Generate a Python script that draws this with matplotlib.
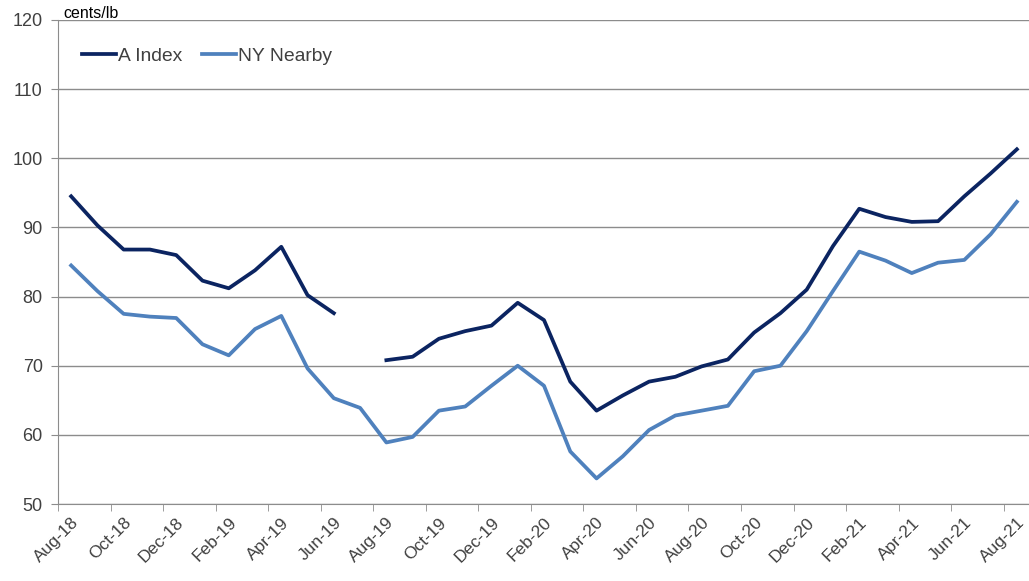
import numpy as np
import matplotlib.pyplot as plt

plt.rcParams['font.family'] = ['Liberation Sans', 'DejaVu Sans']

months = ['Aug-18', 'Sep-18', 'Oct-18', 'Nov-18', 'Dec-18', 'Jan-19', 'Feb-19', 'Mar-19',
          'Apr-19', 'May-19', 'Jun-19', 'Jul-19', 'Aug-19', 'Sep-19', 'Oct-19', 'Nov-19',
          'Dec-19', 'Jan-20', 'Feb-20', 'Mar-20', 'Apr-20', 'May-20', 'Jun-20', 'Jul-20',
          'Aug-20', 'Sep-20', 'Oct-20', 'Nov-20', 'Dec-20', 'Jan-21', 'Feb-21', 'Mar-21',
          'Apr-21', 'May-21', 'Jun-21', 'Jul-21', 'Aug-21']

# Jul-19 missing for the A Index
a_index = [94.5, 90.3, 86.8, 86.8, 86.0, 82.3, 81.2, 83.8, 87.2, 80.2, 77.6, np.nan,
           70.8, 71.3, 73.9, 75.0, 75.8, 79.1, 76.6, 67.7, 63.5, 65.7, 67.7, 68.4,
           69.9, 70.9, 74.8, 77.6, 81.0, 87.3, 92.7, 91.5, 90.8, 90.9, 94.5, 97.8, 101.3]

ny_nearby = [84.5, 80.8, 77.5, 77.1, 76.9, 73.1, 71.5, 75.3, 77.2, 69.6, 65.3, 63.9,
             58.9, 59.7, 63.5, 64.1, 67.1, 70.0, 67.1, 57.6, 53.7, 56.9, 60.7, 62.8,
             63.5, 64.2, 69.2, 70.0, 75.0, 80.8, 86.5, 85.2, 83.4, 84.9, 85.3, 89.0, 93.7]

x = np.arange(len(months))

fig = plt.figure(figsize=(10.29, 5.81), dpi=100)
ax = fig.add_axes([58 / 1029, 77 / 581, 972 / 1029, 484 / 581])

ax.plot(x, a_index, color='#0b2461', lw=2.7, label='A Index', solid_joinstyle='round')
ax.plot(x, ny_nearby, color='#4f81bd', lw=2.7, label='NY Nearby', solid_joinstyle='round')

ax.set_xlim(-0.5, len(months) - 0.5)
ax.set_ylim(50, 120)
ax.set_yticks(range(50, 121, 10))
ax.yaxis.grid(True, color='#8c8c8c', lw=1)
ax.set_axisbelow(True)

# labels on every other month, tick marks at category boundaries
ax.set_xticks(x[::2])
ax.set_xticklabels(months[::2], rotation=45, ha='right', rotation_mode='anchor')
ax.set_xticks(x[::2] - 0.5, minor=True)
ax.tick_params(axis='x', which='major', length=0, pad=8, labelsize=12.5, labelcolor='#404040')
ax.tick_params(axis='x', which='minor', length=5, color='#8c8c8c', direction='out')
ax.tick_params(axis='y', length=5, color='#8c8c8c', labelsize=13, labelcolor='#404040', pad=6)

for s in ['top', 'right']:
    ax.spines[s].set_visible(False)
for s in ['left', 'bottom']:
    ax.spines[s].set_color('#8c8c8c')

fig.text(63 / 1029, 1 - 13 / 581, 'cents/lb', fontsize=11.5, color='#000000', va='center')

ax.legend(loc='upper left', bbox_to_anchor=(82 / 1029, 1 - 47 / 581), bbox_transform=fig.transFigure,
          ncol=2, frameon=False, fontsize=13.9, handlelength=1.75, handletextpad=0.1,
          columnspacing=1.05, borderaxespad=0, borderpad=0, labelcolor='#404040')

fig.savefig('out.png', dpi=100)
